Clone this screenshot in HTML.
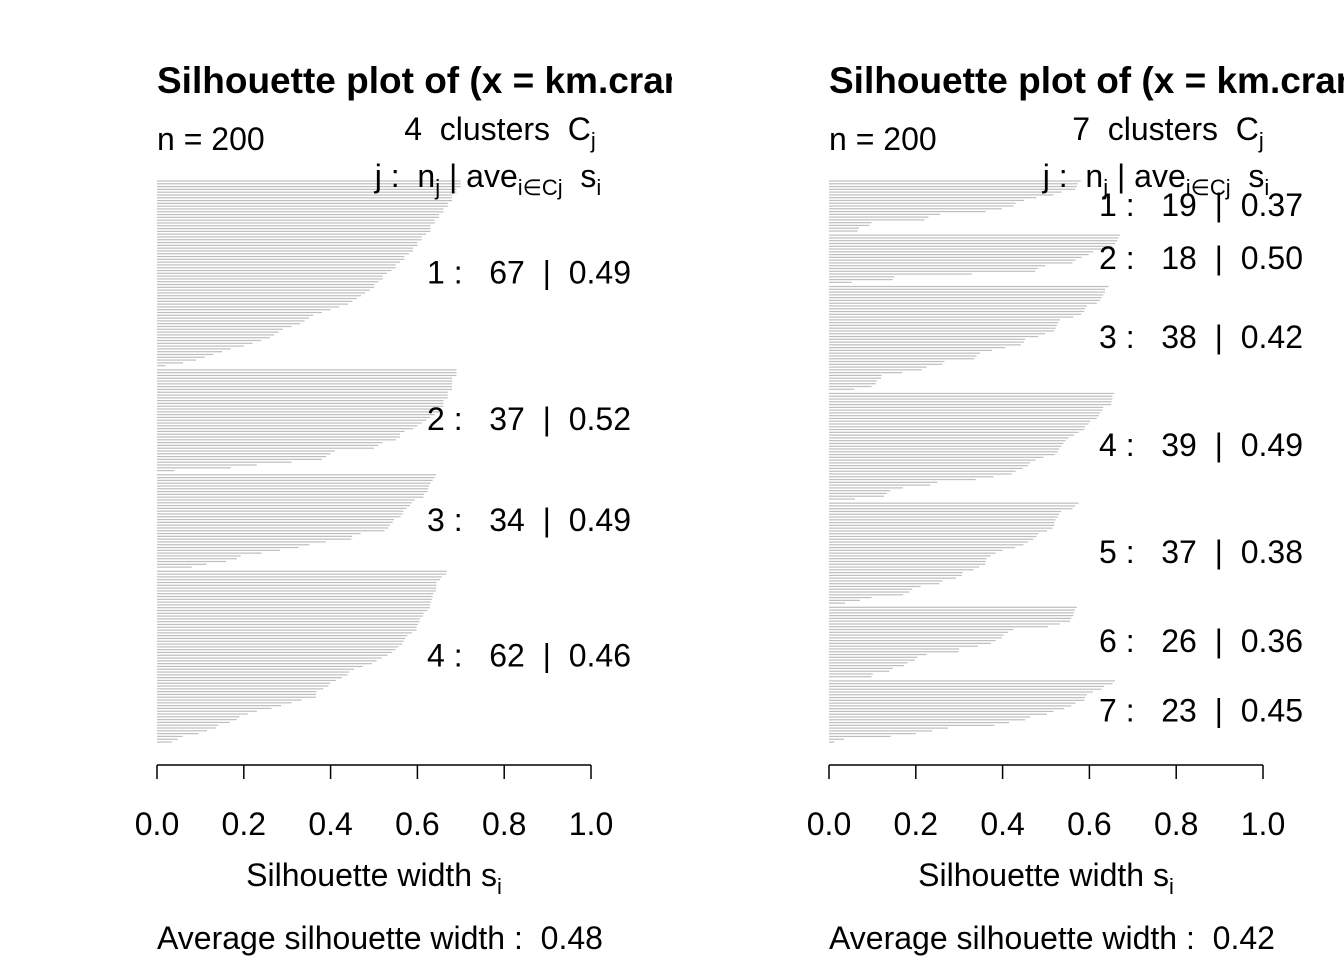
<!DOCTYPE html>
<html><head><meta charset="utf-8"><style>
body{margin:0;background:#fff}
svg{font-family:"Liberation Sans",Arial,sans-serif}
svg text{white-space:pre}
</style></head><body>
<svg id="chart" width="1344" height="960" xmlns="http://www.w3.org/2000/svg" xml:space="preserve">
<defs>
<clipPath id="clipL"><rect x="0" y="0" width="672" height="960"/></clipPath>
<clipPath id="clipR"><rect x="672" y="0" width="672" height="960"/></clipPath>
</defs>
</svg>
<script>
const leftClusters = [
 [.70,.70,.70,.69,.69,.68,.68,.68,.67,.67,.66,.66,.65,.65,.64,.64,.63,.63,.63,.62,.61,.61,.60,.60,.59,.59,.58,.57,.57,.56,.55,.55,.54,.53,.52,.52,.51,.50,.50,.49,.48,.47,.46,.45,.44,.42,.40,.38,.36,.35,.34,.33,.31,.29,.28,.27,.26,.24,.22,.20,.17,.15,.13,.11,.09,.06,.02],
 [.69,.69,.69,.68,.68,.68,.68,.68,.67,.67,.67,.66,.66,.66,.65,.65,.64,.63,.62,.61,.60,.59,.57,.56,.56,.55,.52,.51,.50,.41,.40,.39,.38,.31,.23,.17,.04],
 [.643,.64,.635,.63,.627,.625,.623,.615,.614,.594,.587,.583,.575,.568,.566,.561,.546,.543,.537,.533,.524,.469,.45,.448,.389,.351,.326,.283,.241,.193,.184,.159,.114,.08],
 [.668,.666,.656,.652,.644,.644,.643,.643,.637,.635,.633,.631,.629,.629,.623,.614,.612,.606,.605,.601,.598,.598,.587,.577,.572,.568,.565,.556,.549,.541,.531,.518,.506,.495,.474,.454,.443,.439,.426,.412,.399,.395,.383,.368,.366,.366,.333,.31,.286,.264,.23,.209,.19,.184,.168,.141,.135,.115,.095,.059,.048,.034]
];
const leftLabels = ["1 :   67  |  0.49","2 :   37  |  0.52","3 :   34  |  0.49","4 :   62  |  0.46"];
const rightClusters = [
 [.580,.573,.571,.567,.536,.517,.478,.449,.430,.425,.398,.361,.256,.229,.220,.098,.093,.069,.066],
 [.670,.667,.664,.659,.651,.642,.609,.598,.582,.568,.561,.498,.481,.475,.329,.151,.147,.052],
 [.644,.636,.636,.632,.628,.624,.617,.594,.590,.588,.581,.563,.532,.528,.525,.522,.519,.498,.482,.452,.449,.442,.406,.375,.348,.340,.335,.266,.261,.225,.214,.168,.121,.120,.110,.108,.098,.058],
 [.657,.653,.653,.651,.650,.632,.630,.625,.622,.617,.602,.598,.590,.588,.575,.565,.552,.545,.540,.535,.530,.527,.520,.494,.476,.463,.459,.446,.430,.421,.379,.338,.250,.233,.170,.141,.133,.127,.060],
 [.575,.567,.561,.535,.530,.527,.522,.519,.519,.515,.502,.482,.478,.471,.458,.448,.429,.400,.384,.373,.363,.361,.360,.346,.333,.308,.306,.293,.261,.254,.211,.192,.185,.171,.098,.071,.037],
 [.571,.567,.565,.563,.558,.555,.532,.504,.425,.413,.402,.398,.384,.373,.343,.300,.298,.225,.204,.198,.181,.173,.147,.139,.101,.098],
 [.659,.653,.634,.628,.608,.594,.590,.588,.568,.558,.542,.517,.502,.463,.452,.415,.381,.274,.238,.200,.142,.035,.012]
];
const rightLabels = ["1 :   19  |  0.37","2 :   18  |  0.50","3 :   38  |  0.42","4 :   39  |  0.49","5 :   37  |  0.38","6 :   26  |  0.36","7 :   23  |  0.45"];
const xTicks = [0,0.2,0.4,0.6,0.8,1.0];
const xTickLabels = ["0.0","0.2","0.4","0.6","0.8","1.0"];

const NS="http://www.w3.org/2000/svg";
const svg=document.getElementById('chart');
function mk(tag,attrs,parent,text){const e=document.createElementNS(NS,tag);for(const k in attrs)e.setAttribute(k,attrs[k]);if(text!==undefined)e.textContent=text;(parent||svg).appendChild(e);return e;}

function panel(x0, clusters, labels, nClusters, avg, clip, labelRight, headerX, pname){
  const g=mk('g',{'clip-path':'url(#'+clip+')'});
  
  
  const xs=v=>x0+v*434;
  const total=clusters.reduce((a,c)=>a+c.length,0);
  const step=(742-181)/(total-1+0.5*(clusters.length-1));
  let k=0;
  clusters.forEach((c,ci)=>{
    const ys=[];
    c.forEach(v=>{
      const y=181+(k+ci*0.5)*step; ys.push(y);
      const r=mk('rect',{x:x0,y:y-0.6,width:Math.max(0,xs(v)-x0),height:1.2,fill:'#bebebe'},g);
      
      
      k++;
    });
    const my=(ys[0]+ys[ys.length-1])/2;
    const t=mk('text',{x:labelRight,y:my+10,'text-anchor':'end','font-size':32},g,labels[ci]);
    
    
  });
  const title=mk('text',{x:x0,y:93,'font-size':37,'font-weight':'bold'},g,'Silhouette plot of (x = km.cran$cluster, dist = d)');
  
  
  const n=mk('text',{x:x0,y:150,'font-size':32},g,'n = 200');
  
  
  const h1=mk('text',{x:headerX,y:140,'text-anchor':'middle','font-size':32},g);
  h1.innerHTML=nClusters+'  clusters  C<tspan font-size="22" dy="8">j</tspan>';
  
  
  const h2=mk('text',{x:headerX-12,y:187,'text-anchor':'middle','font-size':32},g);
  h2.innerHTML='j :  n<tspan font-size="22" dy="8">j</tspan><tspan dy="-8"> | ave</tspan><tspan font-size="22" dy="8">i∈Cj</tspan><tspan dy="-8">  s</tspan><tspan font-size="22" dy="8">i</tspan>';
  
  
  const ax=mk('line',{x1:x0,x2:xs(1),y1:765,y2:765,stroke:'#000','stroke-width':1.5},g);
  
  
  xTicks.forEach((t,i)=>{
    const tl=mk('line',{x1:xs(t),x2:xs(t),y1:765,y2:779,stroke:'#000','stroke-width':1.5},g);
    
    
    const tt=mk('text',{x:xs(t),y:835,'text-anchor':'middle','font-size':32},g,xTickLabels[i]);
    
    
  });
  const xl=mk('text',{x:xs(0.5),y:886,'text-anchor':'middle','font-size':32},g);
  xl.innerHTML='Silhouette width s<tspan font-size="22" dy="8">i</tspan>';
  
  
  const av=mk('text',{x:x0,y:949,'font-size':32},g,'Average silhouette width :  '+avg);
  
  
}
panel(157,leftClusters,leftLabels,4,'0.48','clipL',631,500,'left-panel');
panel(829,rightClusters,rightLabels,7,'0.42','clipR',1303,1168,'right-panel');
</script>
</body></html>
